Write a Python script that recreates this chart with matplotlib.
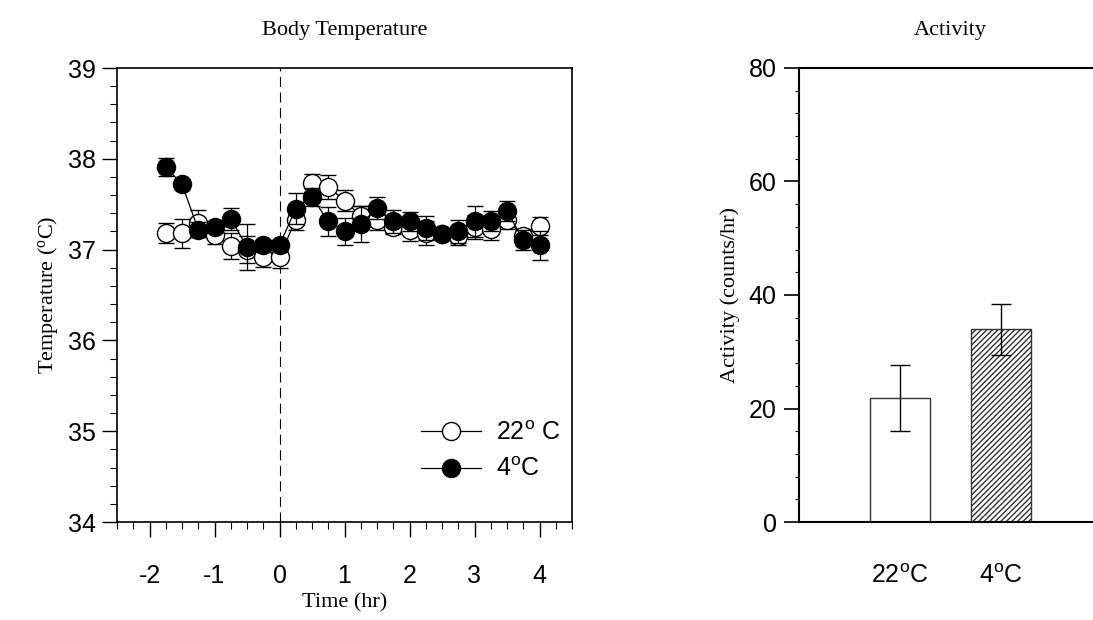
import matplotlib
matplotlib.use("Agg")
import matplotlib.pyplot as plt
import numpy as np
from matplotlib.ticker import MultipleLocator
from matplotlib.lines import Line2D

# time points (hr)
time_hr = [-1.75, -1.5, -1.25, -1.0, -0.75, -0.5, -0.25, 0.0,
           0.25, 0.5, 0.75, 1.0, 1.25, 1.5, 1.75, 2.0,
           2.25, 2.5, 2.75, 3.0, 3.25, 3.5, 3.75, 4.0]
# body temperature, 22 C group
temp_22 = [37.18, 37.18, 37.29, 37.16, 37.04, 37.0, 36.92, 36.92,
           37.33, 37.73, 37.69, 37.54, 37.37, 37.33, 37.25, 37.22,
           37.18, 37.17, 37.15, 37.25, 37.23, 37.33, 37.15, 37.26]
err_22 = [0.11, 0.16, 0.15, 0.1, 0.14, 0.15, 0.11, 0.12,
          0.11, 0.1, 0.13, 0.12, 0.11, 0.11, 0.08, 0.12,
          0.13, 0.06, 0.1, 0.13, 0.12, 0.1, 0.08, 0.1]
# body temperature, 4 C group
temp_4 = [37.91, 37.72, 37.22, 37.25, 37.34, 37.03, 37.05, 37.05,
          37.45, 37.58, 37.31, 37.2, 37.28, 37.46, 37.31, 37.31,
          37.24, 37.17, 37.2, 37.31, 37.31, 37.42, 37.11, 37.05]
err_4 = [0.1, 0.05, 0.08, 0.06, 0.12, 0.25, 0.06, 0.06,
         0.17, 0.1, 0.16, 0.15, 0.2, 0.12, 0.13, 0.1,
         0.13, 0.05, 0.13, 0.17, 0.11, 0.11, 0.11, 0.16]

# activity bars
act_labels = ['22$^\\mathregular{o}$C', '4$^\\mathregular{o}$C']
act_mean = [21.9, 34.0]
act_err = [5.8, 4.5]

serif = 'Liberation Serif'
sans = 'Liberation Sans'
plt.rcParams['font.family'] = sans
plt.rcParams['mathtext.default'] = 'regular'
plt.rcParams['axes.unicode_minus'] = False

fig = plt.figure(figsize=(10.93, 6.2), dpi=100)

# ---- body temperature
ax1 = fig.add_axes([117/1093, 1-522/620, (572-117)/1093, (522-68)/620])
ax1.axvline(0, color='k', lw=0.8, ls=(0, (9, 5)), zorder=1)
ax1.errorbar(time_hr, temp_22, yerr=err_22, color='k', lw=0.9, capsize=6,
             elinewidth=0.9, capthick=0.9, marker='o', ms=13, mfc='white',
             mec='k', mew=1.0, zorder=2)
ax1.errorbar(time_hr, temp_4, yerr=err_4, color='k', lw=0.9, capsize=6,
             elinewidth=0.9, capthick=0.9, marker='o', ms=13, mfc='k',
             mec='k', mew=1.0, zorder=3)
ax1.set_xlim(-2.5, 4.5)
ax1.set_ylim(34, 39)
ax1.xaxis.set_major_locator(MultipleLocator(1))
ax1.xaxis.set_minor_locator(MultipleLocator(0.25))
ax1.yaxis.set_major_locator(MultipleLocator(1))
ax1.yaxis.set_minor_locator(MultipleLocator(0.2))
ax1.tick_params(which='major', direction='out', length=11, width=1, labelsize=18)
ax1.tick_params(axis='x', which='major', pad=19)
ax1.tick_params(axis='y', which='major', pad=4)
ax1.tick_params(which='minor', direction='out', length=5, width=0.8)
for s in ax1.spines.values():
    s.set_linewidth(1.2)
ax1.set_title('Body Temperature', fontfamily=serif, fontsize=16, pad=24)
ax1.set_xlabel('Time (hr)', fontfamily=serif, fontsize=16, labelpad=4)
ax1.set_ylabel('Temperature ($^\\mathregular{o}$C)', fontfamily=serif, fontsize=16, labelpad=6)

handles = [Line2D([], [], color='k', lw=0.9, marker='o', ms=13, mfc='white', mec='k'),
           Line2D([], [], color='k', lw=0.9, marker='o', ms=13, mfc='k', mec='k')]
ax1.legend(handles, ['22$^\\mathregular{o}$ C', '4$^\\mathregular{o}$C'],
           loc='lower right', bbox_to_anchor=(1.025, 0.04), frameon=False,
           fontsize=18, handlelength=2.4, handletextpad=0.6, labelspacing=0.5)

# ---- activity
ax2 = fig.add_axes([799/1093, 1-522/620, (1102-799)/1093, (522-68)/620])
xpos = np.arange(len(act_mean))
ax2.bar(xpos[0], act_mean[0], width=0.6, color='white', edgecolor='#333333', lw=1)
ax2.bar(xpos[1], act_mean[1], width=0.6, color='white', edgecolor='#333333', lw=1,
        hatch='//////')
ax2.errorbar(xpos, act_mean, yerr=act_err, fmt='none', ecolor='k', elinewidth=1,
             capsize=7, capthick=1)
ax2.set_xlim(-1, 2)
ax2.set_ylim(0, 80)
ax2.set_xticks(xpos)
ax2.set_xticklabels(act_labels)
ax2.yaxis.set_major_locator(MultipleLocator(20))
ax2.yaxis.set_minor_locator(MultipleLocator(4))
ax2.tick_params(axis='x', length=0, labelsize=18, pad=30)
ax2.tick_params(axis='y', which='major', direction='out', length=11, width=1.2, labelsize=18, pad=5)
ax2.tick_params(axis='y', which='minor', direction='out', length=3, width=0.8)
for s in ax2.spines.values():
    s.set_linewidth(1.5)
ax2.spines['right'].set_visible(False)
ax2.set_title('Activity', fontfamily=serif, fontsize=16, pad=24)
ax2.set_ylabel('Activity (counts/hr)', fontfamily=serif, fontsize=16, labelpad=6)

fig.savefig('out.png', dpi=100)
